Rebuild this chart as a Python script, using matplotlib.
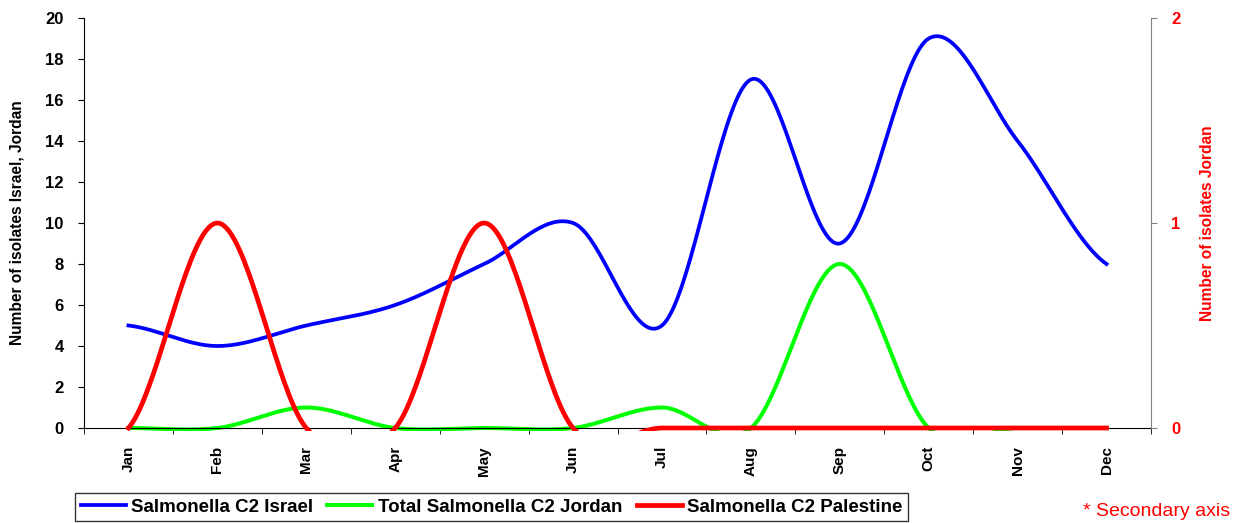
import numpy as np
import matplotlib
matplotlib.use("Agg")
import matplotlib.pyplot as plt
from matplotlib.transforms import Bbox, TransformedBbox

plt.rcParams["font.family"] = ["Liberation Sans", "DejaVu Sans"]

months = ["Jan", "Feb", "Mar", "Apr", "May", "Jun",
          "Jul", "Aug", "Sep", "Oct", "Nov", "Dec"]
israel = [5, 4, 5, 6, 8, 10, 5, 17, 9, 19, 14, 8]
jordan = [0, 0, 1, 0, 0, 0, 1, 0, 8, 0, 0, 0]
palestine = [0, 1, 0, 0, 1, 0, 0, 0, 0, 0, 0, 0]   # secondary axis


def smooth(y, n=40):
    # Catmull-Rom curve through the points, like Excel's "smoothed line"
    y = np.asarray(y, float)
    p = np.concatenate([[y[0]], y, [y[-1]]])
    xs, ys = [], []
    for i in range(len(y) - 1):
        t = np.linspace(0, 1, n, endpoint=(i == len(y) - 2))
        p0, p1, p2, p3 = p[i], p[i + 1], p[i + 2], p[i + 3]
        m1, m2 = (p2 - p0) / 2, (p3 - p1) / 2
        h00 = 2 * t**3 - 3 * t**2 + 1
        h10 = t**3 - 2 * t**2 + t
        h01 = -2 * t**3 + 3 * t**2
        h11 = t**3 - t**2
        ys.append(h00 * p1 + h10 * m1 + h01 * p2 + h11 * m2)
        xs.append(i + t)
    return np.concatenate(xs), np.concatenate(ys)


W, H = 1233, 523
fig = plt.figure(figsize=(W / 100, H / 100), dpi=100)
ax = fig.add_axes([84 / W, 95 / H, 1067 / W, 410 / H])
ax2 = ax.twinx()

x = np.arange(len(months))
l_isr, = ax.plot(*smooth(israel), color="#0000FF", lw=2.7, label="Salmonella C2 Israel")
l_jor, = ax.plot(*smooth(jordan), color="#00FF00", lw=2.9, label="Total Salmonella C2 Jordan")
l_pal, = ax2.plot(*smooth(palestine), color="#FF0000", lw=3.4, label="Salmonella C2 Palestine")

# clip a few pixels below the x axis so lines lying on zero stay whole
for a, ln in [(ax, l_isr), (ax, l_jor), (ax2, l_pal)]:
    ln.set_clip_box(TransformedBbox(Bbox.from_extents(0, -0.008, 1, 1), a.transAxes))

ax.set_xlim(-0.5, 11.5)
ax.set_ylim(0, 20)
ax2.set_ylim(0, 2)

ax.set_yticks(np.arange(0, 21, 2))
ax2.set_yticks([0, 1, 2])
ax.set_xticks(x)
ax.set_xticklabels(months, rotation=90, fontsize=11, fontweight="bold")
ax.set_xticks(np.arange(-0.5, 12, 1), minor=True)
ax.tick_params(axis="x", which="major", length=0, pad=13)
ax.tick_params(axis="x", which="minor", length=4, direction="out", color="black")
ax.tick_params(axis="y", length=4.5, direction="out", labelsize=12, pad=10)
for lab in ax.get_yticklabels():
    lab.set_fontweight("bold")
ax2.tick_params(axis="y", length=4.5, direction="out", colors="#808080",
                labelcolor="#FF0000", labelsize=12, pad=10)
for lab in ax2.get_yticklabels():
    lab.set_fontweight("bold")

for s in ["top", "right"]:
    ax.spines[s].set_visible(False)
for s in ["top", "left", "bottom"]:
    ax2.spines[s].set_visible(False)
ax2.spines["right"].set_color("#808080")
ax.spines["left"].set_color("black")
ax.spines["bottom"].set_color("black")

ax.set_ylabel("Number of isolates Israel, Jordan", fontsize=11.2, fontweight="bold",
              va="center")
ax.yaxis.set_label_coords(-0.0628, 0.5)
ax2.set_ylabel("Number of isolates Jordan", fontsize=11.2, fontweight="bold",
               color="#FF0000", rotation=90, va="center")
ax2.yaxis.set_label_coords(1.0525, 0.5)

leg = fig.legend(handles=[l_isr, l_jor, l_pal], loc="upper left",
                 bbox_to_anchor=(75 / W, 1 - 493 / H), ncol=3,
                 prop={"size": 13.5, "weight": "bold"}, frameon=True,
                 fancybox=False, handlelength=2.4, handletextpad=0.3,
                 columnspacing=0.75, borderpad=0.3, borderaxespad=0)
leg.get_frame().set_edgecolor("black")
leg.get_frame().set_linewidth(1)

fig.text(1230 / W, 1 - 511 / H, "* Secondary axis", color="#FF0000",
         fontsize=14, ha="right", va="center")

fig.savefig("out.png", dpi=100)
